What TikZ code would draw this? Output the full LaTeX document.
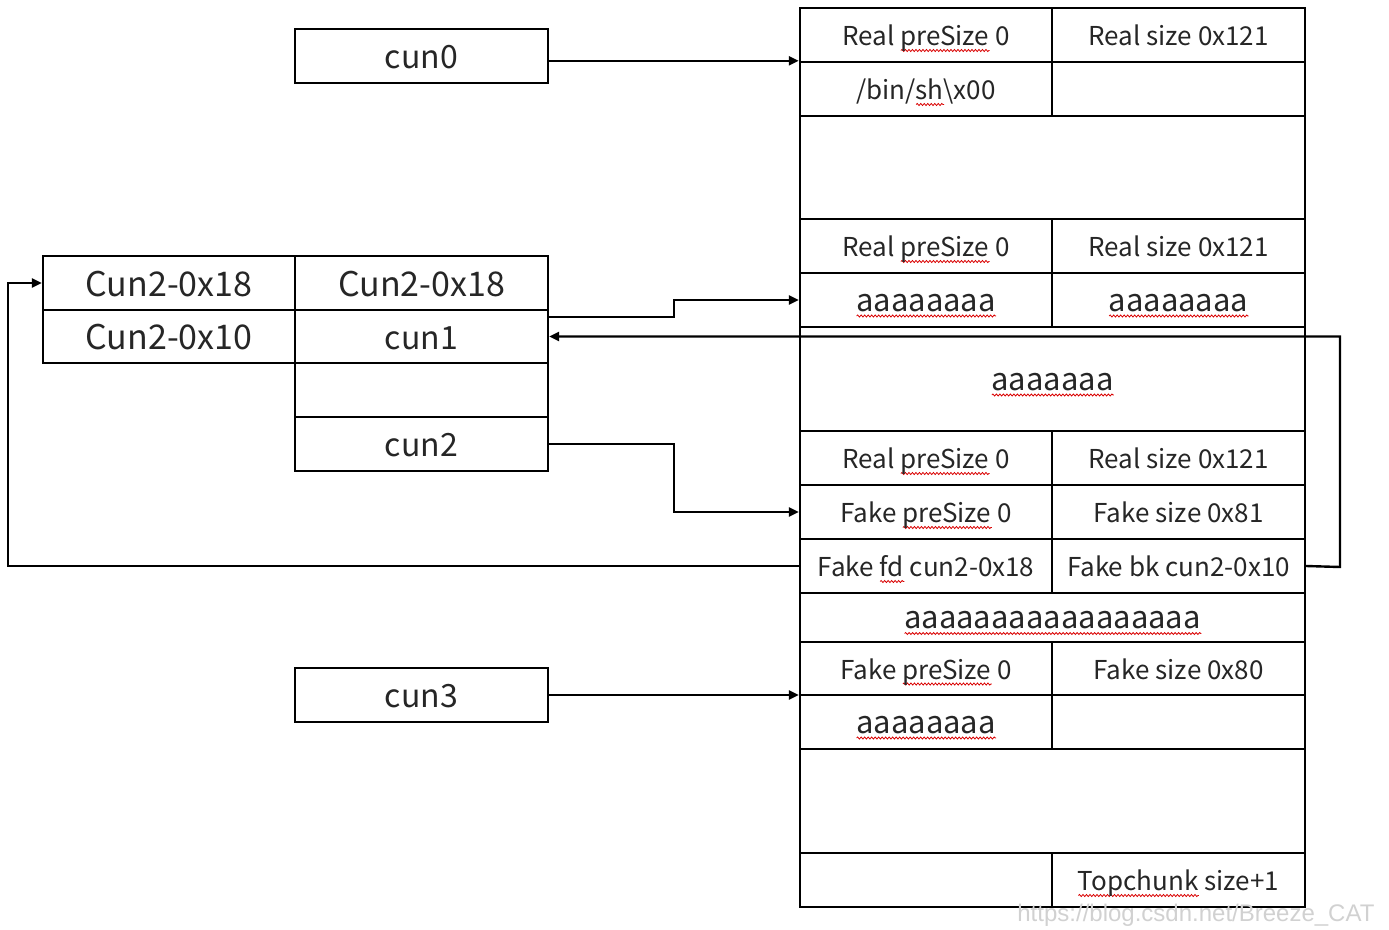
\documentclass[tikz,border=0pt]{standalone}
\usepackage{fontspec}
\setmainfont{Noto Sans CJK SC}
\newfontfamily\wmfont{Liberation Sans}
\usetikzlibrary{arrows.meta,decorations.pathmorphing}
\newsavebox\rwbox
\newlength\rwlen
\newcommand\rw[1]{\sbox\rwbox{#1}\setlength\rwlen{\wd\rwbox}\rlap{\raisebox{-5pt}[0pt][0pt]{\tikz[x=1pt,y=1pt,baseline=0pt]\draw[red!85!black,line width=0.8pt,decorate,decoration={snake,amplitude=1pt,segment length=3.5pt}] (0,0) -- (\rwlen,0);}}\usebox\rwbox}
\newcommand\cell[6]{\node[cell, minimum width={#4-#2}, minimum height={#5-#3}] (#1) at ({(#2+#4)/2},{(#3+#5)/2}) {#6};}
\tikzset{
  cell/.style={draw, line width=2.4pt, inner sep=0pt, text=black!85, text height=22pt, text depth=1pt, font=\fontsize{26}{30}\selectfont},
  big/.style={font=\fontsize{34}{40}\selectfont, text height=26pt, text depth=0pt},
  mid/.style={font=\fontsize{32}{38}\selectfont, text height=25pt, text depth=0pt},
  aaa/.style={font=\fontsize{31}{36}\selectfont, text height=22pt, text depth=0pt},
  arr/.style={line width=2.4pt, -{Triangle[length=10pt,width=9pt]}},
}
\begin{document}
\begin{tikzpicture}[x=1pt,y=-1pt]
\useasboundingbox (0,0) rectangle (1389,929);
% right heap column
\cell{r1a}{800}{8}{1052}{62}{Real \rw{preSize} 0}
\cell{r1b}{1052}{8}{1305}{62}{Real size 0x121}
\cell{r2a}{800}{62}{1052}{116}{/bin/\rw{sh}\textbackslash x00}
\cell{r2b}{1052}{62}{1305}{116}{}
\cell{r3}{800}{116}{1305}{219}{}
\cell{r4a}{800}{219}{1052}{273}{Real \rw{preSize} 0}
\cell{r4b}{1052}{219}{1305}{273}{Real size 0x121}
\node[cell,aaa,minimum width=252,minimum height=54] (r5a) at (926,300) {\rw{aaaaaaaa}};
\node[cell,aaa,minimum width=253,minimum height=54] (r5b) at (1178.5,300) {\rw{aaaaaaaa}};
\node[cell,aaa,minimum width=505,minimum height=104] (r6) at (1052.5,379) {\rw{aaaaaaa}};
\cell{r7a}{800}{431}{1052}{485}{Real \rw{preSize} 0}
\cell{r7b}{1052}{431}{1305}{485}{Real size 0x121}
\cell{r8a}{800}{485}{1052}{539}{Fake \rw{preSize} 0}
\cell{r8b}{1052}{485}{1305}{539}{Fake size 0x81}
\cell{r9a}{800}{539}{1052}{593}{Fake \rw{fd} cun2-0x18}
\cell{r9b}{1052}{539}{1305}{593}{Fake bk cun2-0x10}
\node[cell,aaa,minimum width=505,minimum height=49] (r10) at (1052.5,617.5) {\rw{aaaaaaaaaaaaaaaaa}};
\cell{r11a}{800}{642}{1052}{695}{Fake \rw{preSize} 0}
\cell{r11b}{1052}{642}{1305}{695}{Fake size 0x80}
\node[cell,aaa,minimum width=252,minimum height=54] (r12a) at (926,722) {\rw{aaaaaaaa}};
\cell{r12b}{1052}{695}{1305}{749}{}
\cell{r13}{800}{749}{1305}{853}{}
\cell{r14a}{800}{853}{1052}{907}{}
\cell{r14b}{1052}{853}{1305}{907}{\rw{Topchunk} size+1}
% left boxes
\node[cell,mid,minimum width=253,minimum height=54] (cun0) at (421.5,56) {cun0};
\node[cell,big,minimum width=252,minimum height=54] (c18a) at (169,283) {Cun2-0x18};
\node[cell,big,minimum width=253,minimum height=54] (c18b) at (421.5,283) {Cun2-0x18};
\node[cell,big,minimum width=252,minimum height=53] (c10) at (169,336.5) {Cun2-0x10};
\node[cell,mid,minimum width=253,minimum height=53] (cun1) at (421.5,336.5) {cun1};
\node[cell,mid,minimum width=253,minimum height=54] (blank) at (421.5,390) {};
\node[cell,mid,minimum width=253,minimum height=54] (cun2) at (421.5,444) {cun2};
\node[cell,mid,minimum width=253,minimum height=54] (cun3) at (421.5,695) {cun3};
% connectors
\coordinate (k1) at (674,317);
\coordinate (k2) at (1340,567);
\coordinate (k3) at (8,566);
\draw[arr] (c18b.east |- k1) -- (k1) |- (r5a.west);
\draw[arr] (cun0.east |- r2a.north west) -- (r2a.north west);
\draw[arr] (r9b.east) -- (k2) |- (cun1.east);
\draw[arr] (cun2.east) -| (k1 |- r8a.west) -- (r8a.west);
\draw[arr] (r9a.west) -- (k3) |- (c18a.west);
\draw[arr] (cun3.east) -- (cun3.east -| r12a.west);
% watermark
\node[anchor=east, text=black!18, font=\wmfont\fontsize{24}{28}\selectfont] (wm) at (1378,915) {https://blog.csdn.net/Breeze\_CAT};
\end{tikzpicture}
\end{document}
